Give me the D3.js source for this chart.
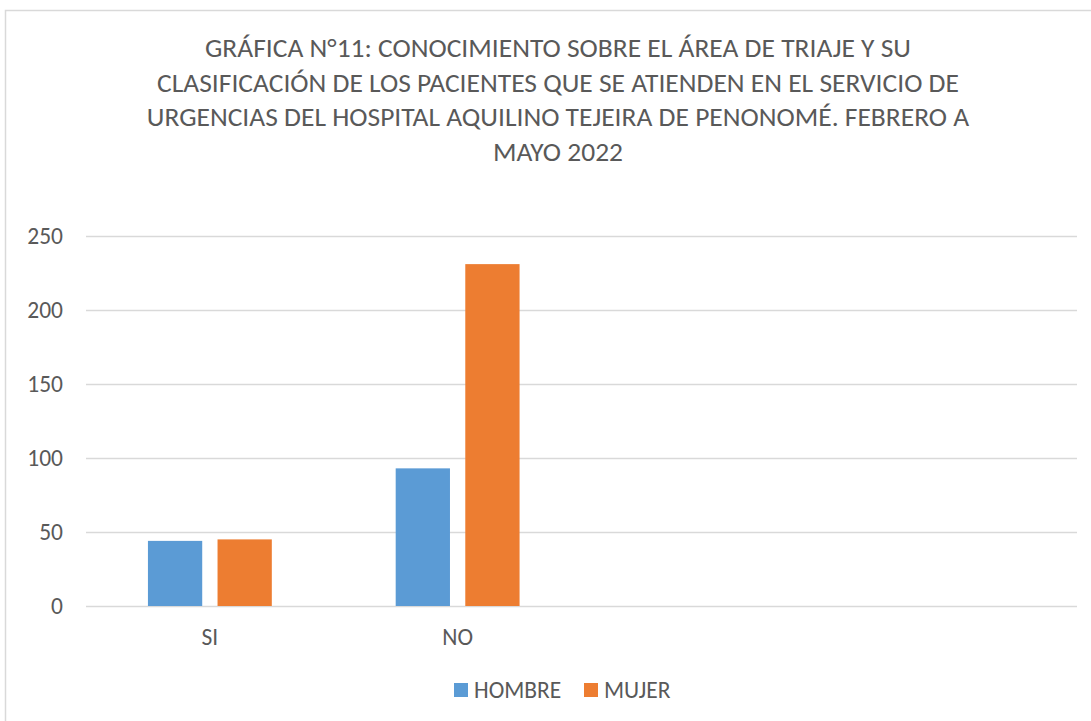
<!DOCTYPE html>
<html>
<head>
<meta charset="utf-8">
<script src="https://cdn.jsdelivr.net/npm/d3@7"></script>
<style>
    body { margin: 0; background: #fff; }
    #chart-area text { fill: #595959; font-family: Carlito, Lato, sans-serif; }
</style>
</head>
<body>
<div id="chart-area"></div>
<script>

// Chart data
var titleLines = [
    "GRÁFICA N°11: CONOCIMIENTO SOBRE EL ÁREA DE TRIAJE Y SU",
    "CLASIFICACIÓN DE LOS PACIENTES QUE SE ATIENDEN EN EL SERVICIO DE",
    "URGENCIAS DEL HOSPITAL AQUILINO TEJEIRA DE PENONOMÉ. FEBRERO A",
    "MAYO 2022"
];
var categories = ["SI", "NO", "", ""];
var seriesNames = ["HOMBRE", "MUJER"];
var hombre = [44, 93, null, null];
var mujer = [45, 231, null, null];
var yTicks = [0, 50, 100, 150, 200, 250];


/*
 * BarChart - Object constructor function
 * @param _parentElement  -- the HTML element in which to draw the visualization
 */

BarChart = function (_parentElement) {
    this.parentElement = _parentElement;
    this.displayData = [];

    this.initVis();
};


/*
 * Initialize visualization (static content; e.g. SVG area, axes)
 */

BarChart.prototype.initVis = function () {
    var vis = this;

    // Color definitions
    vis.colors = ["#5b9bd5", "#ed7d31"];
    vis.colorGrid = "#d9d9d9";

    vis.margin = {top: 236, right: 14, bottom: 115, left: 86};
    vis.width = 1091 - vis.margin.left - vis.margin.right;
    vis.height = 721 - vis.margin.top - vis.margin.bottom;

    vis.svgRoot = d3.select("#" + vis.parentElement).append("svg")
        .attr("width", 1091)
        .attr("height", 721);

    // chart frame (runs off the right and bottom edge)
    vis.svgRoot.append("rect")
        .attr("x", 5.5)
        .attr("y", 10.5)
        .attr("width", 1120)
        .attr("height", 730)
        .attr("fill", "#fff")
        .attr("stroke", vis.colorGrid)
        .attr("stroke-width", 1.5);

    // title
    vis.svgRoot.append("text")
        .attr("class", "chart-title")
        .attr("text-anchor", "middle")
        .style("font-size", "27.5px")
        .selectAll("tspan")
        .data(titleLines)
        .enter().append("tspan")
        .attr("x", 558)
        .attr("y", function (d, i) {
            return 57 + i * 34.5;
        })
        .text(function (d) {
            return d;
        });

    vis.svg = vis.svgRoot.append("g")
        .attr("transform", "translate(" + vis.margin.left + "," + vis.margin.top + ")");

    // Scales
    vis.x0 = d3.scaleBand()
        .domain(d3.range(categories.length))
        .range([0, vis.width])
        .paddingInner(0.5)
        .paddingOuter(0.25);

    vis.x1 = d3.scaleBand()
        .domain(d3.range(seriesNames.length))
        .range([0, vis.x0.bandwidth()])
        .paddingInner(0.22);

    vis.y = d3.scaleLinear()
        .domain([0, 250])
        .range([vis.height, 0]);

    vis.wrangleData();
};


/*
 * Data wrangling
 */

BarChart.prototype.wrangleData = function () {
    var vis = this;

    categories.forEach(function (c, index) {
        vis.displayData.push({
            "index": index,
            "name": c,
            "values": [hombre[index], mujer[index]]
        });
    });

    vis.updateVis();
};


/*
 * The drawing function
 */

BarChart.prototype.updateVis = function () {
    var vis = this;

    // Gridlines + y labels
    var yAxis = d3.axisLeft(vis.y)
        .tickValues(yTicks)
        .tickSize(-vis.width)
        .tickPadding(23);

    var yGroup = vis.svg.append("g")
        .attr("class", "y-axis")
        .call(yAxis);

    yGroup.select(".domain").remove();
    yGroup.selectAll(".tick line")
        .attr("stroke", vis.colorGrid)
        .attr("stroke-width", 1.5);
    yGroup.selectAll(".tick text")
        .style("font-size", "23.5px");

    // Category labels
    var xAxis = d3.axisBottom(vis.x0)
        .tickSize(0)
        .tickPadding(22)
        .tickFormat(function (i) {
            return categories[i];
        });

    var xGroup = vis.svg.append("g")
        .attr("class", "x-axis")
        .attr("transform", "translate(0," + vis.height + ")")
        .call(xAxis);

    xGroup.select(".domain").remove();
    xGroup.selectAll(".tick text")
        .style("font-size", "23.5px");

    // Bars
    var groups = vis.svg.selectAll(".category")
        .data(vis.displayData)
        .enter().append("g")
        .attr("class", "category")
        .attr("transform", function (d) {
            return "translate(" + vis.x0(d.index) + ",0)";
        });

    groups.selectAll("rect")
        .data(function (d) {
            return d.values.map(function (v, s) {
                return {series: s, value: v};
            }).filter(function (e) {
                return e.value != null;
            });
        })
        .enter().append("rect")
        .attr("x", function (d) {
            return vis.x1(d.series);
        })
        .attr("y", function (d) {
            return vis.y(d.value);
        })
        .attr("width", vis.x1.bandwidth())
        .attr("height", function (d) {
            return vis.y(0) - vis.y(d.value);
        })
        .attr("fill", function (d) {
            return vis.colors[d.series];
        });

    // Legend
    var legendX = [454, 584];
    var legend = vis.svgRoot.selectAll(".legend-item")
        .data(seriesNames)
        .enter().append("g")
        .attr("class", "legend-item")
        .attr("transform", function (d, i) {
            return "translate(" + legendX[i] + ",683)";
        });

    legend.append("rect")
        .attr("width", 14)
        .attr("height", 14)
        .attr("fill", function (d, i) {
            return vis.colors[i];
        });

    legend.append("text")
        .attr("x", 20)
        .attr("y", 7)
        .attr("dy", "0.36em")
        .style("font-size", "23.5px")
        .text(function (d) {
            return d;
        });
};

new BarChart("chart-area");

</script>
</body>
</html>
